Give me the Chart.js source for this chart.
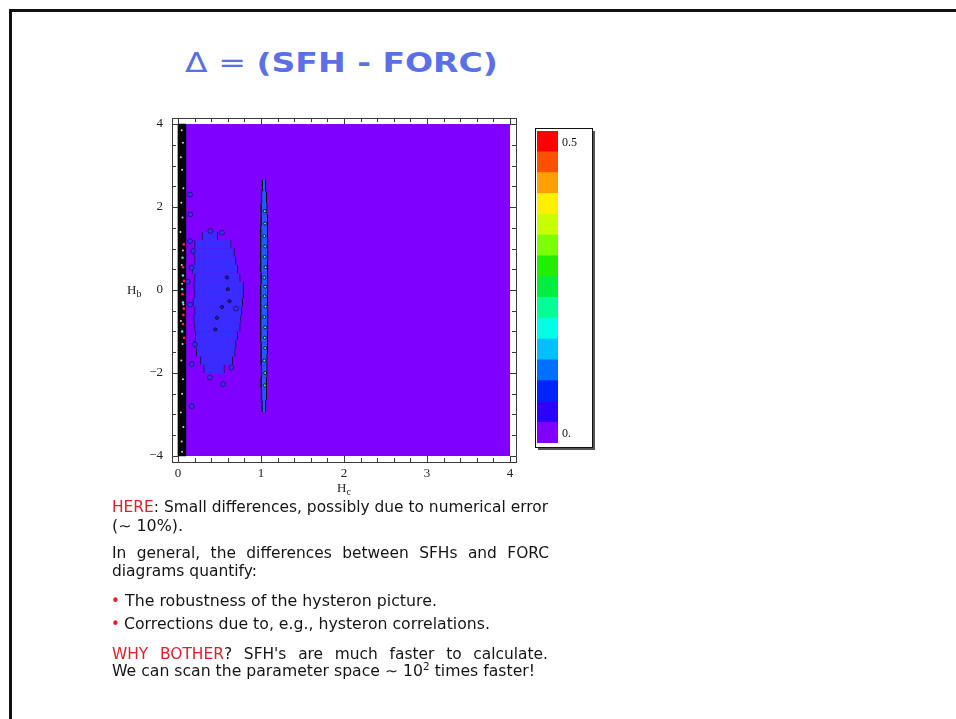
<!DOCTYPE html>
<html><head><meta charset="utf-8">
<script src="https://cdn.jsdelivr.net/npm/chart.js@4/dist/chart.umd.min.js"></script>
<style>
html,body{margin:0;padding:0;background:#fff;}
body{width:956px;height:719px;position:relative;overflow:hidden;}
#frame{position:absolute;left:9px;top:9px;width:980px;height:740px;border-top:3px solid #111;border-left:3px solid #111;}
.t{position:absolute;white-space:nowrap;font-family:"DejaVu Sans";font-size:15px;line-height:15px;color:#151515;transform-origin:0 0;}
.r{color:#e0202c;}
#title{position:absolute;left:185px;top:50px;font-family:"DejaVu Sans";font-weight:bold;font-size:26px;line-height:26px;color:#5b70e6;white-space:nowrap;transform-origin:0 0;}
#title .n{font-weight:normal;}
.ax{position:absolute;font-family:"Liberation Serif";font-size:13px;line-height:13px;color:#222;white-space:nowrap;}
.ax sub{font-size:10px;vertical-align:-3px;line-height:0;}
.t sup{font-size:10px;vertical-align:6px;line-height:0;}
#main{position:absolute;left:100px;top:100px;}
#cbar{position:absolute;left:530px;top:120px;}
</style></head>
<body>
<div id="frame"></div>
<div id="title" data-w="313"><span class="n">Δ = </span>(SFH - FORC)</div>
<canvas id="main" width="430" height="400"></canvas>
<canvas id="cbar" width="70" height="340"></canvas>
<div class="ax" style="left:127px;top:283px">H<sub>b</sub></div>
<div class="ax" style="left:337px;top:481px">H<sub>c</sub></div>

<div class="t" style="left:112px;top:500px" data-w="436"><span class="r">HERE</span>: Small differences, possibly due to numerical error</div>
<div class="t" style="left:112px;top:519px" data-w="71">(∼ 10%).</div>
<div class="t" style="left:112px;top:546px" data-w="437" data-j="1">In general, the differences between SFHs and FORC</div>
<div class="t" style="left:112px;top:564px" data-w="145">diagrams quantify:</div>
<div class="t r" style="left:111px;top:594px">•</div>
<div class="t" style="left:125px;top:594px" data-w="312">The robustness of the hysteron picture.</div>
<div class="t r" style="left:111px;top:617px">•</div>
<div class="t" style="left:124px;top:617px" data-w="366">Corrections due to, e.g., hysteron correlations.</div>
<div class="t" style="left:112px;top:647px" data-w="436" data-j="1"><span class="r">WHY BOTHER</span>? SFH's are much faster to calculate.</div>
<div class="t" style="left:112px;top:664px" data-w="423">We can scan the parameter space ∼ 10<sup>2</sup> times faster!</div>

<script>
// ---------- data ----------
const hcTicks = [0, 1, 2, 3, 4];
const hcTickLabels = ['0', '1', '2', '3', '4'];
const hbTicks = [-4, -2, 0, 2, 4];
const hbTickLabels = ['−4', '−2', '0', '2', '4'];
const hcRange = [0, 4];
const hbRange = [-4, 4];

// contour levels of Delta and their colours (colour bar, bottom -> top)
const levelValues = [0, 0.0357, 0.0714, 0.1071, 0.1429, 0.1786, 0.2143, 0.25, 0.2857, 0.3214, 0.3571, 0.3929, 0.4286, 0.4643, 0.5];
const levelLabels = ['0.', '', '', '', '', '', '', '', '', '', '', '', '', '', '0.5'];
const levelColors = ['#8000ff', '#2c00ff', '#0024ff', '#0070ff', '#00c0ff', '#00ffe4', '#00ff96', '#00ee40', '#22ee00', '#7cff00', '#c8ff00', '#fff000', '#ffa000', '#ff5000', '#ff0000'];

// dense contour band near Hc = 0
const leftBandHb = [-2, 2];
const leftBandHc = [[0, 0.095], [0, 0.095]];

// blob of small differences (rows in Hb, extent in Hc)
const blobHb  = [1.3, 1.1, 0.9, 0.7, 0.5, 0.3, 0.1, -0.1, -0.3, -0.5, -0.7, -0.9, -1.1, -1.3, -1.5, -1.7, -1.9];
const blobHc0 = [0.29, 0.20, 0.19, 0.20, 0.17, 0.20, 0.19, 0.20, 0.18, 0.20, 0.19, 0.20, 0.21, 0.20, 0.22, 0.27, 0.31];
const blobHc1 = [0.48, 0.64, 0.68, 0.70, 0.72, 0.75, 0.79, 0.79, 0.78, 0.77, 0.76, 0.75, 0.72, 0.70, 0.69, 0.66, 0.56];
const blobIslandHc = [0.145, 0.15, 0.39, 0.53, 0.145, 0.18, 0.165, 0.145, 0.205, 0.165, 0.385, 0.545, 0.645, 0.165, 0.12, 0.70];
const blobIslandHb = [2.30, 1.82, 1.42, 1.38, 1.18, 0.94, 0.54, -0.35, -1.31, -1.79, -2.11, -2.27, -1.87, -2.80, 0.20, -0.45];
const blobSpotHc = [0.53, 0.47, 0.60, 0.62, 0.59, 0.45];
const blobSpotHb = [-0.41, -0.67, 0.02, -0.27, 0.30, -0.95];

// thin ridge near Hc = 1
const ridgeHb  = [2.52, 2.24, 1.96, 1.68, 1.40, 1.12, 0.84, 0.56, 0.28, 0.00, -0.28, -0.56, -0.84, -1.12, -1.40, -1.68, -1.96, -2.24, -2.52, -2.80];
const ridgeHc0 = [1.01, 1.00, 0.995, 0.995, 0.99, 0.99, 0.99, 0.99, 0.995, 0.99, 0.99, 0.99, 0.99, 0.99, 0.995, 0.995, 1.00, 0.995, 1.00, 1.005];
const ridgeHc1 = [1.06, 1.07, 1.075, 1.08, 1.08, 1.085, 1.085, 1.08, 1.085, 1.085, 1.08, 1.085, 1.085, 1.08, 1.08, 1.075, 1.075, 1.07, 1.07, 1.06];
const ridgeSpeckHb = [1.9, 1.6, 1.3, 1.05, 0.8, 0.55, 0.3, 0.08, -0.15, -0.4, -0.65, -0.9, -1.15, -1.4, -1.7, -2.0, -2.3];
const ridgeSpeckHc = [1.045, 1.05, 1.04, 1.05, 1.045, 1.055, 1.04, 1.05, 1.045, 1.055, 1.04, 1.05, 1.045, 1.05, 1.04, 1.05, 1.045];

// specks inside the Hc = 0 band
const bandWhiteHb = [3.85, 3.55, 3.2, 2.9, 2.45, 2.1, 1.75, 1.4, 0.95, 0.6, 0.15, -0.35, -0.75, -1.3, -1.7, -2.15, -2.5, -2.95, -3.3, -3.65, -3.9];
const bandWhiteHc = [0.045, 0.06, 0.035, 0.05, 0.065, 0.04, 0.055, 0.03, 0.06, 0.045, 0.05, 0.065, 0.035, 0.055, 0.04, 0.06, 0.05, 0.035, 0.065, 0.045, 0.05];
const bandRedHb = [1.1, 0.55, 0.22, -0.1, -0.45, -0.82, -1.15, -0.6];
const bandRedHc = [0.07, 0.06, 0.075, 0.055, 0.07, 0.06, 0.075, 0.065];
const bandCyanHb = [0.02, -0.3, 0.78, -1.0, 0.35];
const bandCyanHc = [0.05, 0.06, 0.055, 0.05, 0.06];

// ---------- helpers ----------
const pts = (xs, ys) => xs.map((x, i) => ({x, y: ys[i]}));
const rows = (ys, x0, x1) => ys.map((y, i) => ({y, x: [x0[i], x1[i]]}));
const barBase = {type: 'bar', indexAxis: 'y', stack: 'all', barThickness: 'flex',
  categoryPercentage: 1, barPercentage: 1, borderSkipped: false};
const speck = {type: 'scatter', indexAxis: 'y', showLine: false, pointHoverRadius: 0};

const mainPlugin = {
  id: 'mainDecor',
  beforeDatasetsDraw(chart) {
    const {ctx, scales: {x, y}} = chart;
    const x0 = x.getPixelForValue(hcRange[0]), x1 = x.getPixelForValue(hcRange[1]);
    const y0 = y.getPixelForValue(hbRange[1]), y1 = y.getPixelForValue(hbRange[0]);
    ctx.save();
    ctx.fillStyle = levelColors[0];
    ctx.fillRect(x0, y0, x1 - x0, y1 - y0);
    ctx.restore();
  },
  afterDraw(chart) {
    const {ctx, chartArea: a, scales: {x, y}} = chart;
    ctx.save();
    ctx.strokeStyle = '#3a3a3a';
    ctx.lineWidth = 1;
    ctx.strokeRect(Math.round(a.left) + 0.5, Math.round(a.top) + 0.5, Math.round(a.right - a.left), Math.round(a.bottom - a.top));
    ctx.beginPath();
    for (let v = 0; v <= 20; v++) {
      const val = v * 0.2;
      const major = hcTicks.some(t => Math.abs(t - val) < 1e-6);
      const len = major ? 6 : 4;
      const px = Math.round(x.getPixelForValue(val)) + 0.5;
      ctx.moveTo(px, a.bottom); ctx.lineTo(px, a.bottom - len);
      ctx.moveTo(px, a.top); ctx.lineTo(px, a.top + len);
    }
    for (let v = -8; v <= 8; v++) {
      const val = v * 0.5;
      const major = hbTicks.some(t => Math.abs(t - val) < 1e-6);
      const len = major ? 6 : 4;
      const py = Math.round(y.getPixelForValue(val)) + 0.5;
      ctx.moveTo(a.left, py); ctx.lineTo(a.left + len, py);
      ctx.moveTo(a.right, py); ctx.lineTo(a.right - len, py);
    }
    ctx.stroke();
    ctx.restore();
  }
};

new Chart(document.getElementById('main'), {
  type: 'bar',
  data: {
    datasets: [
      Object.assign({}, speck, {order: 0, data: pts(bandWhiteHc, bandWhiteHb), pointRadius: 1, pointBackgroundColor: '#d0d0d0', pointBorderWidth: 0}),
      Object.assign({}, speck, {order: 0, data: pts(bandRedHc, bandRedHb), pointRadius: 1.3, pointBackgroundColor: '#ff2a2a', pointBorderWidth: 0}),
      Object.assign({}, speck, {order: 0, data: pts(bandCyanHc, bandCyanHb), pointRadius: 1.2, pointBackgroundColor: '#40f0ff', pointBorderWidth: 0}),
      Object.assign({}, speck, {order: 1, data: pts(ridgeSpeckHc, ridgeSpeckHb), pointRadius: 1.5, pointBackgroundColor: '#30e8e0', pointBorderColor: '#000', pointBorderWidth: 0.8}),
      Object.assign({}, barBase, {order: 3, data: rows(ridgeHb, ridgeHc0, ridgeHc1), backgroundColor: '#1f5cff', borderColor: '#000', borderWidth: {left: 1.5, right: 1, top: 0, bottom: 0}}),
      Object.assign({}, speck, {order: 4, data: pts(blobSpotHc, blobSpotHb), pointRadius: 1.6, pointBackgroundColor: '#2418b0', pointBorderColor: '#0a0a30', pointBorderWidth: 0.8}),
      Object.assign({}, speck, {order: 4, data: pts(blobIslandHc, blobIslandHb), pointRadius: 2.4, pointBackgroundColor: '#3a2cff', pointBorderColor: '#1a1060', pointBorderWidth: 0.8}),
      Object.assign({}, barBase, {order: 5, data: rows(blobHb, blobHc0, blobHc1), backgroundColor: '#3a2cff', borderColor: '#1a1060', borderWidth: {left: 1, right: 1, top: 0, bottom: 0}}),
      Object.assign({}, barBase, {order: 6, data: leftBandHb.map((y, i) => ({y, x: leftBandHc[i]})), backgroundColor: '#060606', borderWidth: 0})
    ]
  },
  options: {
    responsive: false, animation: false, devicePixelRatio: 1,
    layout: {padding: {left: 0, right: 14, top: 18, bottom: 0}},
    plugins: {legend: {display: false}, tooltip: {enabled: false}},
    scales: {
      x: {type: 'linear', position: 'bottom', min: -0.072, max: 4.072, stacked: false, offset: false, beginAtZero: false,
        grid: {display: false, drawTicks: false, offset: false}, border: {display: false},
        afterBuildTicks: s => { s.ticks = hcTicks.map(v => ({value: v})); },
        afterFit: s => { s.height = 38; },
        ticks: {autoSkip: false, maxRotation: 0, padding: 4, color: '#222',
          font: {family: 'Liberation Serif', size: 13},
          callback: v => hcTickLabels[hcTicks.indexOf(v)]}},
      y: {type: 'linear', position: 'left', min: -4.145, max: 4.145, stacked: true, offset: false, beginAtZero: false,
        grid: {display: false, drawTicks: false, offset: false}, border: {display: false},
        afterBuildTicks: s => { s.ticks = hbTicks.map(v => ({value: v})); },
        afterFit: s => { s.width = 72; },
        ticks: {autoSkip: false, padding: 9, color: '#222',
          font: {family: 'Liberation Serif', size: 13},
          callback: v => hbTickLabels[hbTicks.indexOf(v)]}}
    }
  },
  plugins: [mainPlugin]
});

// ---------- colour bar ----------
const half = (levelValues[1] - levelValues[0]) / 2;
const cbPlugin = {
  id: 'cbDecor',
  beforeDraw(chart) {
    const {ctx} = chart;
    ctx.save();
    ctx.fillStyle = '#555';
    ctx.fillRect(8, 11, 57, 319);
    ctx.fillStyle = '#fff';
    ctx.fillRect(5.5, 8.5, 57, 319);
    ctx.restore();
  },
  afterDraw(chart) {
    const {ctx, scales: {y}} = chart;
    ctx.save();
    ctx.strokeStyle = '#111';
    ctx.lineWidth = 1;
    ctx.strokeRect(5.5, 8.5, 57, 319);
    ctx.fillStyle = '#111';
    ctx.font = '12px "Liberation Serif"';
    ctx.textBaseline = 'middle';
    levelValues.forEach((v, i) => {
      if (levelLabels[i]) ctx.fillText(levelLabels[i], 32, y.getPixelForValue(v) + 1);
    });
    ctx.restore();
  }
};
new Chart(document.getElementById('cbar'), {
  type: 'bar',
  data: {
    labels: [''],
    datasets: levelValues.map((v, i) => ({
      data: [[v - half, v + half]], backgroundColor: levelColors[i], borderWidth: 0,
      stack: 'cb', categoryPercentage: 1, barPercentage: 1
    }))
  },
  options: {
    responsive: false, animation: false, devicePixelRatio: 1,
    layout: {padding: {left: 7, right: 42, top: 11, bottom: 17}},
    plugins: {legend: {display: false}, tooltip: {enabled: false}},
    scales: {
      x: {display: false, stacked: true},
      y: {display: false, stacked: false, min: levelValues[0] - half, max: levelValues[levelValues.length - 1] + half}
    }
  },
  plugins: [cbPlugin]
});

// ---------- fit text widths ----------
function fit() {
  const els = [...document.querySelectorAll('[data-w]')];
  let refScale = 1;
  els.forEach(el => { el.style.transform = 'none'; el.style.wordSpacing = '0px'; });
  const plain = els.filter(el => !el.dataset.j && el.classList.contains('t'));
  if (plain.length) refScale = (+plain[0].dataset.w) / plain[0].getBoundingClientRect().width;
  els.forEach(el => {
    const w = el.getBoundingClientRect().width;
    const target = +el.dataset.w;
    if (el.dataset.j) {
      const spaces = (el.textContent.match(/ /g) || []).length;
      const extra = (target / refScale - w) / spaces;
      el.style.wordSpacing = extra + 'px';
      el.style.transform = 'scaleX(' + refScale + ')';
    } else {
      el.style.transform = 'scaleX(' + (target / w) + ')';
    }
  });
}
fit();
if (document.fonts && document.fonts.ready) document.fonts.ready.then(fit);
</script>
</body></html>
